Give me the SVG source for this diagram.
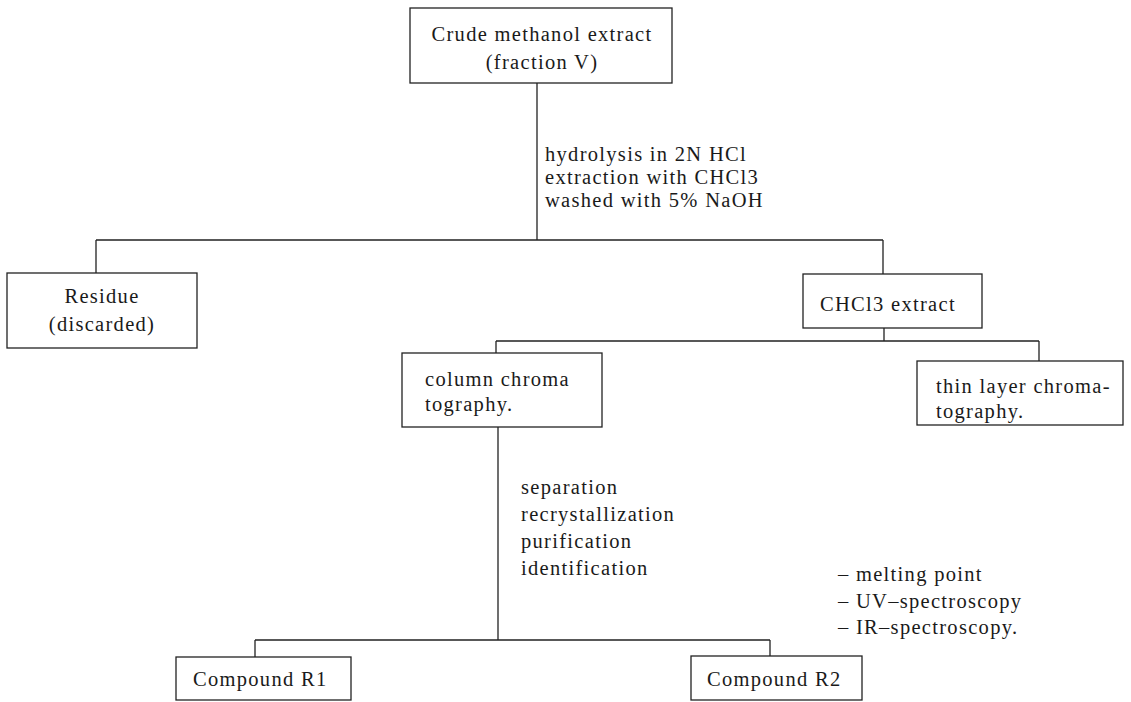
<svg xmlns="http://www.w3.org/2000/svg" width="1131" height="702" viewBox="0 0 1131 702">
<style>
.box{fill:#fff;stroke:#222;stroke-width:1.3}
.ln{fill:none;stroke:#222;stroke-width:1.3}
text{font-family:"Liberation Serif","Times New Roman",serif;font-size:20.5px;fill:#1a1a1a;letter-spacing:1.3px}
.c{text-anchor:middle}
</style>
<rect width="1131" height="702" fill="#fff"/>
<g id="connectors">
<path class="ln" d="M537 83V240M96 240H883M96 240V273M883 240V274"/>
<path class="ln" d="M884 328V341M496 341H1039M496 341V353M1039 341V361"/>
<path class="ln" d="M498 427V640M255 640H770M255 640V657M770 640V656"/>
</g>
<g id="label-hydrolysis">
<text x="545" y="161">hydrolysis in 2N HCl</text>
<text x="545" y="184">extraction with CHCl3</text>
<text x="545" y="207">washed with 5% NaOH</text>
</g>
<g id="label-separation">
<text x="521" y="494">separation</text>
<text x="521" y="521">recrystallization</text>
<text x="521" y="548">purification</text>
<text x="521" y="575">identification</text>
</g>
<g id="label-identification">
<text x="838" y="581">– melting point</text>
<text x="838" y="608">– UV–spectroscopy</text>
<text x="838" y="634">– IR–spectroscopy.</text>
</g>
<g id="node-crude">
<rect class="box" x="410" y="8" width="262" height="75"/>
<text class="c" x="542" y="41">Crude methanol extract</text>
<text class="c" x="542" y="69">(fraction V)</text>
</g>
<g id="node-residue">
<rect class="box" x="7" y="273" width="190" height="75"/>
<text class="c" x="102" y="303">Residue</text>
<text class="c" x="102" y="331">(discarded)</text>
</g>
<g id="node-chcl3">
<rect class="box" x="803" y="274" width="179" height="54"/>
<text x="820" y="311">CHCl3 extract</text>
</g>
<g id="node-column">
<rect class="box" x="402" y="353" width="200" height="74"/>
<text x="425" y="386">column chroma</text>
<text x="425" y="411">tography.</text>
</g>
<g id="node-tlc">
<rect class="box" x="917" y="361" width="206" height="64"/>
<text x="936" y="393">thin layer chroma-</text>
<text x="936" y="418">tography.</text>
</g>
<g id="node-r1">
<rect class="box" x="176" y="657" width="175" height="43"/>
<text x="193" y="686">Compound R1</text>
</g>
<g id="node-r2">
<rect class="box" x="691" y="656" width="171" height="44"/>
<text x="707" y="686">Compound R2</text>
</g>
</svg>
